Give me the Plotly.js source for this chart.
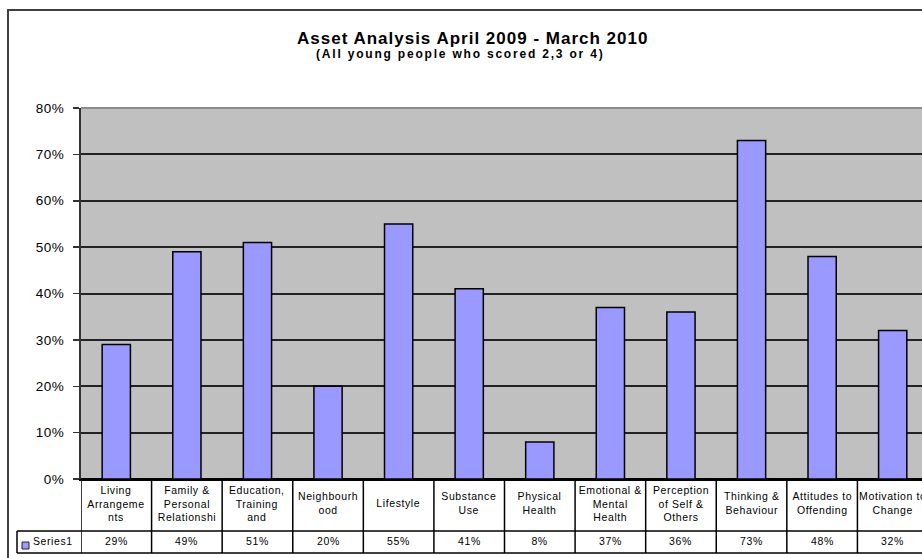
<!DOCTYPE html>
<html><head><meta charset="utf-8">
<script src="https://cdn.plot.ly/plotly-3.0.1.min.js"></script>
<style>html,body{margin:0;padding:0;overflow:hidden;background:#fff}#chart{width:940px;height:558px}
#chart .annotation-text{letter-spacing:0.6px}
#chart .ytick text{letter-spacing:0.5px}
</style>
</head><body><div id="chart"></div>
<script>
const categories = [
  "Living<br>Arrangeme<br>nts",
  "Family &<br>Personal<br>Relationshi",
  "Education,<br>Training<br>and",
  "Neighbourh<br>ood",
  "Lifestyle",
  "Substance<br>Use",
  "Physical<br>Health",
  "Emotional &<br>Mental<br>Health",
  "Perception<br>of Self &<br>Others",
  "Thinking &<br>Behaviour",
  "Attitudes to<br>Offending",
  "Motivation to<br>Change"
];
const values = [29, 49, 51, 20, 55, 41, 8, 37, 36, 73, 48, 32];
const seriesName = "Series1";
const yTicks = [0, 10, 20, 30, 40, 50, 60, 70, 80];
const yTickText = yTicks.map(v => v + "%");
const titleText = "Asset Analysis April 2009 - March 2010";
const subtitleText = "(All young people who scored 2,3 or 4)";

const FONT = "Arial, 'Liberation Sans', sans-serif";
const barColor = "#9999FF";

// plot geometry helpers (pixel -> paper)
const L = 81, PW = 847, T = 108, PH = 371;
const px = p => (p - L) / PW;
const py = p => (T + PH - p) / PH;

const shapes = [];
const annotations = [];

// outer chart frame
shapes.push({type: "rect", xref: "paper", yref: "paper", x0: px(8), x1: 1.2, y0: -0.4, y1: py(10),
  line: {color: "#404040", width: 2}, layer: "above"});
// plot area top border (gray)
shapes.push({type: "line", xref: "paper", yref: "paper", x0: 0, x1: 1, y0: 1, y1: 1,
  line: {color: "#8c8c8c", width: 2}, layer: "above"});

// data table grid: vertical lines at category boundaries
for (let i = 0; i <= categories.length; i++) {
  shapes.push({type: "line", xref: "x", yref: "paper", x0: i - 0.5, x1: i - 0.5, y0: 0, y1: py(553),
    line: {color: "#000", width: 1.5}});
}
// horizontal table lines
shapes.push({type: "line", xref: "paper", yref: "paper", x0: px(17), x1: 1.1, y0: py(531), y1: py(531),
  line: {color: "#000", width: 1.5}});
shapes.push({type: "line", xref: "paper", yref: "paper", x0: px(17), x1: 1.1, y0: py(553), y1: py(553),
  line: {color: "#000", width: 1.5}});
shapes.push({type: "line", xref: "paper", yref: "paper", x0: px(17), x1: px(17), y0: py(531), y1: py(553),
  line: {color: "#000", width: 1.5}});
// legend key
shapes.push({type: "rect", xref: "paper", yref: "paper", x0: px(22), x1: px(29), y0: py(549), y1: py(542),
  fillcolor: barColor, line: {color: "#202040", width: 1}});

// category labels and values in the table
categories.forEach((c, i) => {
  annotations.push({x: c, xref: "x", y: py(503), yref: "paper", text: c, showarrow: false,
    xanchor: "center", yanchor: "middle", align: "center",
    font: {family: FONT, size: 10.5, color: "#000"}});
  annotations.push({x: c, xref: "x", y: py(541), yref: "paper", text: values[i] + "%", showarrow: false,
    xanchor: "center", yanchor: "middle",
    font: {family: FONT, size: 10.5, color: "#000"}});
});
annotations.push({x: px(53), xref: "paper", y: py(541), yref: "paper", text: seriesName, showarrow: false,
  xanchor: "center", yanchor: "middle", font: {family: FONT, size: 10.5, color: "#000"}});

// titles
annotations.push({x: px(472), xref: "paper", y: py(39), yref: "paper",
  text: "<span style=\"letter-spacing:1px\"><b>" + titleText + "</b></span>",
  showarrow: false, xanchor: "center", yanchor: "middle", font: {family: FONT, size: 17, color: "#000"}});
annotations.push({x: px(460), xref: "paper", y: py(54), yref: "paper",
  text: "<span style=\"letter-spacing:1.8px\"><b>" + subtitleText + "</b></span>",
  showarrow: false, xanchor: "center", yanchor: "middle", font: {family: FONT, size: 12, color: "#000"}});

const trace = {
  type: "bar", x: categories, y: values, name: seriesName,
  marker: {color: barColor, line: {color: "#000", width: 1.5}},
  hoverinfo: "skip"
};

const layout = {
  width: 940, height: 558,
  margin: {l: L, r: 940 - L - PW, t: T, b: 558 - T - PH, pad: 0},
  paper_bgcolor: "#fff", plot_bgcolor: "#C0C0C0",
  showlegend: false, bargap: 0.6,
  font: {family: FONT, color: "#000"},
  xaxis: {type: "category", showticklabels: false, ticks: "", showgrid: false, zeroline: false,
    showline: true, linecolor: "#000", linewidth: 1.5, range: [-0.5, categories.length - 0.5], fixedrange: true},
  yaxis: {range: [0, 80], tickvals: yTicks, ticktext: yTickText, showgrid: true, gridcolor: "#222", gridwidth: 2,
    zeroline: true, zerolinecolor: "#000", zerolinewidth: 1.5,
    showline: true, linecolor: "#333", linewidth: 2, ticks: "outside", ticklen: 6, tickwidth: 1.5, tickcolor: "#333",
    ticklabelstandoff: 6, tickfont: {family: FONT, size: 13.5, color: "#000"}, fixedrange: true},
  shapes: shapes, annotations: annotations
};

Plotly.newPlot("chart", [trace], layout, {staticPlot: true, displayModeBar: false});
</script></body></html>
